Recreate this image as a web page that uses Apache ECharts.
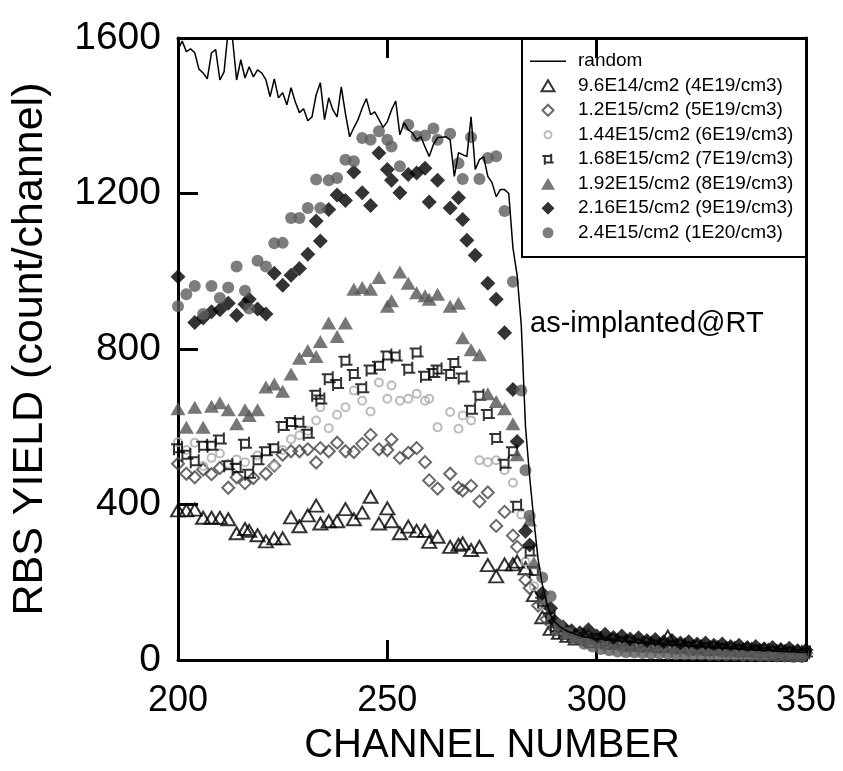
<!DOCTYPE html>
<html>
<head>
<meta charset="utf-8">
<script src="https://cdn.jsdelivr.net/npm/echarts@6/dist/echarts.min.js"></script>
<style>
  html, body { margin: 0; padding: 0; background: #fff; }
  #chart { width: 843px; height: 771px; }
</style>
</head>
<body>
<div id="chart"></div>
<script>
// channel axis + tick labels
var xTicks = [200, 250, 300, 350];
var yTicks = [0, 400, 800, 1200, 1600];

// random spectrum, one value per channel from 200 to 350
var randomStart = 200;
var randomY = [
  1570, 1592, 1565, 1572, 1562, 1520, 1510, 1495, 1562, 1570,
  1492, 1513, 1620, 1600, 1492, 1544, 1497, 1526, 1500, 1518,
  1510, 1492, 1449, 1495, 1446, 1459, 1428, 1472, 1436, 1408,
  1418, 1387, 1397, 1454, 1485, 1390, 1446, 1415, 1397, 1474,
  1405, 1346, 1369, 1390, 1420, 1444, 1403, 1410, 1390, 1370,
  1385, 1415, 1438, 1351, 1382, 1364, 1356, 1338, 1346, 1320,
  1295, 1326, 1344, 1345, 1346, 1338, 1244, 1305, 1300, 1295,
  1397, 1262, 1287, 1295, 1244, 1228, 1192, 1210, 1210, 1200,
  1060, 990, 860, 600, 470, 360, 260, 195, 150, 115,
  98, 88, 80, 74, 70, 66, 63, 60, 58, 56,
  54, 55, 51, 52, 49, 50, 47, 48, 45, 46,
  44, 45, 42, 43, 41, 42, 39, 40, 38, 39,
  37, 38, 35, 36, 34, 35, 33, 34, 31, 32,
  30, 31, 29, 30, 28, 28, 26, 27, 25, 26,
  24, 25, 23, 23, 22, 22, 21, 21, 20, 20, 19
];

// [channel, yield]
var d96e14 = [
  [200,385],[202,385],[204,387],[206,366],[208,366],[210,366],[212,362],[214,326],[216,337],[217,332],
  [219,321],[221,305],[223,313],[225,313],[227,367],[229,344],[231,372],[233,397],[234,351],[236,357],
  [238,357],[240,388],[242,362],[244,379],[246,420],[248,351],[250,390],[251,357],[253,326],[255,343],
  [257,332],[259,332],[260,304],[262,317],[265,291],[267,296],[268,300],[270,283],[272,291],[274,244],
  [276,215],[278,246],[280,246],[281,253],[283,236],[285,167],[287,110],[289,80],[291,70],[293,62],
  [295,55],[297,58],[299,48],[301,52],[303,44],[305,46],[307,40],[309,44],[311,38],[313,42],
  [315,36],[317,60],[319,34],[321,38],[323,30],[325,34],[327,28],[329,32],[331,26],[333,30],
  [335,24],[337,27],[339,22],[341,25],[343,20],[345,22],[347,18],[349,20]
];
var d12e15 = [
  [200,505],[202,479],[204,470],[206,490],[208,478],[210,494],[212,443],[214,470],[216,455],[218,468],
  [221,479],[223,500],[225,528],[227,537],[229,537],[231,542],[233,508],[234,545],[236,537],[238,559],
  [240,537],[242,535],[244,556],[246,579],[248,542],[250,540],[251,567],[253,520],[255,533],[257,545],
  [259,509],[260,462],[262,441],[265,479],[267,443],[268,436],[270,448],[272,408],[274,431],[276,345],
  [278,381],[280,320],[281,291],[283,206],[284,185],[286,140],[288,105],[290,80],[292,68],[294,60],
  [296,55],[298,62],[300,50],[302,45],[304,52],[306,42],[308,46],[310,40],[312,44],[314,36],
  [316,40],[318,34],[320,38],[322,32],[324,36],[326,30],[328,33],[330,28],[332,31],[334,25],
  [336,29],[338,24],[340,27],[342,22],[344,24],[346,19],[348,22],[350,18]
];
var d144e15 = [
  [200,560],[202,540],[204,559],[206,499],[208,520],[210,531],[212,505],[214,516],[216,509],[219,526],
  [223,499],[225,540],[227,568],[229,578],[231,590],[233,616],[234,650],[236,596],[238,631],[240,650],
  [242,693],[244,667],[246,639],[248,714],[250,672],[251,706],[253,667],[255,672],[257,685],[259,667],
  [260,672],[262,599],[265,638],[267,595],[268,629],[270,616],[272,514],[274,509],[276,514],[278,488],
  [280,456],[282,374],[283,253],[285,190],[287,140],[289,100],[291,75],[293,65],[295,58],[297,52],
  [299,55],[301,46],[303,50],[305,42],[307,45],[309,38],[311,42],[313,35],[315,39],[317,32],
  [319,36],[321,30],[323,33],[325,27],[327,31],[329,25],[331,28],[333,23],[335,26],[337,21],
  [339,24],[341,19],[343,22],[345,17],[347,20],[349,15]
];
var d168e15 = [
  [200,545],[202,528],[204,511],[206,551],[208,551],[210,567],[212,501],[214,494],[216,556],[217,479],
  [219,514],[221,537],[223,545],[225,602],[227,612],[229,610],[231,582],[233,682],[234,670],[236,725],
  [238,710],[240,770],[242,736],[244,699],[246,747],[248,757],[250,783],[252,781],[255,749],[257,791],
  [259,731],[261,738],[262,747],[265,736],[266,764],[268,727],[270,644],[272,680],[274,633],[276,571],
  [278,505],[280,537],[281,397],[284,279],[285,229],[287,150],[289,110],[290,85],[292,72],[294,64],
  [296,58],[298,52],[300,56],[302,47],[304,44],[306,48],[308,38],[310,42],[312,36],[314,40],
  [316,33],[318,37],[320,30],[322,34],[324,28],[326,32],[328,26],[330,30],[332,24],[334,27],
  [336,22],[338,25],[340,20],[342,23],[344,18],[346,21],[348,16],[350,19]
];
var d192e15 = [
  [200,646],[202,599],[204,650],[206,599],[208,653],[210,662],[212,644],[214,608],[216,644],[217,629],
  [219,644],[221,702],[223,710],[225,691],[227,736],[229,776],[231,796],[233,781],[234,819],[236,867],
  [238,832],[240,867],[242,954],[244,958],[246,954],[248,984],[250,910],[251,924],[253,998],[255,969],
  [257,945],[259,937],[260,928],[262,941],[265,910],[267,918],[268,829],[270,798],[272,785],[274,685],
  [276,665],[278,646],[280,608],[281,528],[284,360],[285,250],[287,160],[289,110],[291,80],[293,70],
  [295,62],[297,66],[299,55],[301,58],[303,50],[305,53],[307,46],[309,49],[311,43],[313,46],
  [315,40],[317,43],[319,37],[321,40],[323,34],[325,37],[327,31],[329,34],[331,28],[333,31],
  [335,26],[337,29],[339,24],[341,27],[343,22],[345,25],[347,20],[349,23]
];
var d216e15 = [
  [200,986],[204,868],[206,880],[208,896],[210,901],[212,918],[214,887],[216,915],[217,928],[219,903],
  [221,890],[223,995],[225,964],[227,990],[229,1007],[231,1044],[233,1129],[234,1078],[236,1159],[238,1196],
  [240,1182],[242,1255],[244,1202],[246,1169],[248,1304],[250,1262],[251,1234],[253,1202],[255,1249],[257,1253],
  [259,1265],[260,1178],[262,1234],[265,1163],[267,1189],[268,1133],[269,1080],[271,1041],[274,969],[276,928],
  [278,842],[280,696],[281,562],[283,331],[284,296],[287,172],[289,133],[290,100],[292,85],[294,75],
  [296,70],[298,78],[300,62],[302,66],[304,58],[306,62],[308,54],[310,57],[312,50],[314,53],
  [316,47],[318,50],[320,44],[322,47],[324,41],[326,44],[328,38],[330,41],[332,35],[334,38],
  [336,32],[338,35],[340,29],[342,32],[344,27],[346,30],[348,24],[350,26]
];
var d24e15 = [
  [200,910],[202,941],[204,962],[206,890],[208,962],[210,931],[212,958],[214,1012],[216,950],[217,904],
  [219,1027],[221,1012],[223,1072],[225,1073],[227,1137],[229,1137],[231,1163],[233,1236],[234,1163],[236,1234],
  [238,1240],[240,1287],[242,1283],[244,1343],[246,1338],[248,1360],[250,1338],[251,1321],[253,1270],[255,1377],
  [257,1347],[259,1349],[261,1367],[262,1338],[265,1354],[267,1278],[268,1237],[270,1345],[272,1237],[274,1291],
  [276,1296],[278,1155],[280,973],[282,693],[283,488],[284,371],[287,212],[289,164],[291,90],[293,70],
  [295,55],[297,42],[299,35],[301,28],[303,25],[305,22],[307,20],[309,19],[311,18],[313,17],
  [315,17],[317,16],[319,15],[321,15],[323,14],[325,14],[327,13],[329,13],[331,12],[333,12],
  [335,11],[337,11],[339,10],[341,10],[343,9],[345,9],[347,8],[349,8]
];

var names = [
  'random',
  '9.6E14/cm2 (4E19/cm3)',
  '1.2E15/cm2 (5E19/cm3)',
  '1.44E15/cm2 (6E19/cm3)',
  '1.68E15/cm2 (7E19/cm3)',
  '1.92E15/cm2 (8E19/cm3)',
  '2.16E15/cm2 (9E19/cm3)',
  '2.4E15/cm2 (1E20/cm3)'
];

var FONT = 'Liberation Sans, Arial, Helvetica, sans-serif';
var randomData = randomY.map(function (v, i) { return [randomStart + i, v]; });

// square with one edge sticking out at each corner
var pinSquare = 'path://M0,3 L11,3 M11,0 L11,11 M14,11 L3,11 M3,14 L3,3';

// legend icons: the two leading moves pin every icon to a 36x13 box so nothing gets stretched
var box = 'path://M0,0 M36,13 ';
var legendIcons = [
  box + 'M0,5.8 L36,5.8 L36,7.2 L0,7.2 Z',
  box + 'M18,1 L24.5,12 L11.5,12 Z',
  box + 'M18,1 L23.5,6.5 L18,12 L12.5,6.5 Z',
  box + 'M14.5,6.5 A3.5,3.5 0 1 1 21.5,6.5 A3.5,3.5 0 1 1 14.5,6.5 Z',
  box + 'M12.4,3.3 L21.2,3.3 M21.2,0.9 L21.2,9.7 M23.6,9.7 L14.8,9.7 M14.8,12.1 L14.8,3.3',
  box + 'M18,0.5 L25,12.5 L11,12.5 Z',
  box + 'M18,0 L24.5,6.5 L18,13 L11.5,6.5 Z',
  box + 'M12.5,6.5 A5.5,5.5 0 1 1 23.5,6.5 A5.5,5.5 0 1 1 12.5,6.5 Z'
];

var myChart = echarts.init(document.getElementById('chart'));
var axisLine = { show: true, onZero: false, lineStyle: { color: '#000', width: 3 } };
var tick = { inside: true, length: 20, lineStyle: { color: '#000', width: 3 } };

var option = {
  animation: false,
  backgroundColor: '#fff',
  textStyle: { fontFamily: FONT },
  grid: { left: 178, right: 37, top: 38, bottom: 109 },
  legend: {
    data: names.map(function (n, i) { return { name: n, icon: legendIcons[i] }; }),
    orient: 'vertical',
    left: 529,
    top: 49,
    padding: 0,
    itemWidth: 36,
    itemHeight: 13,
    itemGap: 0,
    selectedMode: false,
    textStyle: { fontSize: 19, color: '#000', lineHeight: 24.5, fontFamily: FONT, padding: [0, 0, 0, 7] }
  },
  graphic: [
    { type: 'rect', shape: { x: 522, y: 38, width: 284, height: 219 },
      style: { fill: 'none', stroke: '#000', lineWidth: 2 }, z: 0 },
    { type: 'text', left: 530, top: 309,
      style: { text: 'as-implanted@RT', fontSize: 29, fill: '#000', fontFamily: FONT } }
  ],
  xAxis: [
    { type: 'value', min: xTicks[0], max: xTicks[xTicks.length - 1], interval: 50, position: 'bottom',
      axisLine: axisLine, axisTick: tick,
      axisLabel: { fontSize: 36, color: '#000', margin: 23, fontFamily: FONT },
      splitLine: { show: false },
      name: 'CHANNEL NUMBER', nameLocation: 'middle', nameGap: 66,
      nameTextStyle: { fontSize: 40, color: '#000', fontFamily: FONT } },
    { type: 'value', min: xTicks[0], max: xTicks[xTicks.length - 1], interval: 50, position: 'top',
      axisLine: axisLine, axisTick: tick,
      axisLabel: { show: false }, splitLine: { show: false } }
  ],
  yAxis: [
    { type: 'value', min: yTicks[0], max: yTicks[yTicks.length - 1], interval: 400, position: 'left',
      axisLine: axisLine, axisTick: tick,
      axisLabel: { fontSize: 39, color: '#000', margin: 17, fontFamily: FONT,
        formatter: function (v) { return String(v); } },
      splitLine: { show: false },
      name: 'RBS YIELD (count/channel)', nameLocation: 'middle', nameGap: 126,
      nameTextStyle: { fontSize: 43, color: '#000', fontFamily: FONT } },
    { type: 'value', min: yTicks[0], max: yTicks[yTicks.length - 1], interval: 400, position: 'right',
      axisLine: axisLine, axisTick: { show: false },
      axisLabel: { show: false }, splitLine: { show: false } }
  ],
  series: [
    { name: names[0], type: 'line', data: randomData, symbol: 'none', showSymbol: false,
      lineStyle: { color: '#000', width: 1.5 }, itemStyle: { color: '#000' }, clip: true },
    { name: names[1], type: 'scatter', data: d96e14, symbol: 'triangle', symbolSize: [14, 12],
      itemStyle: { color: 'rgba(0,0,0,0)', borderColor: '#000', borderWidth: 2 } },
    { name: names[2], type: 'scatter', data: d12e15, symbol: 'diamond', symbolSize: 12,
      itemStyle: { color: 'rgba(0,0,0,0)', borderColor: '#444', borderWidth: 2 } },
    { name: names[3], type: 'scatter', data: d144e15, symbol: 'circle', symbolSize: 8,
      itemStyle: { color: 'rgba(0,0,0,0)', borderColor: '#aaa', borderWidth: 2 } },
    { name: names[4], type: 'scatter', data: d168e15, symbol: pinSquare, symbolSize: 14,
      itemStyle: { color: 'rgba(0,0,0,0)', borderColor: '#000', borderWidth: 2 } },
    { name: names[5], type: 'scatter', data: d192e15, symbol: 'triangle', symbolSize: [15, 13],
      itemStyle: { color: '#555' } },
    { name: names[6], type: 'scatter', data: d216e15, symbol: 'diamond', symbolSize: 15,
      itemStyle: { color: '#000' } },
    { name: names[7], type: 'scatter', data: d24e15, symbol: 'circle', symbolSize: 12,
      itemStyle: { color: '#5c5c5c' } }
  ]
};

myChart.setOption(option);
</script>
</body>
</html>
